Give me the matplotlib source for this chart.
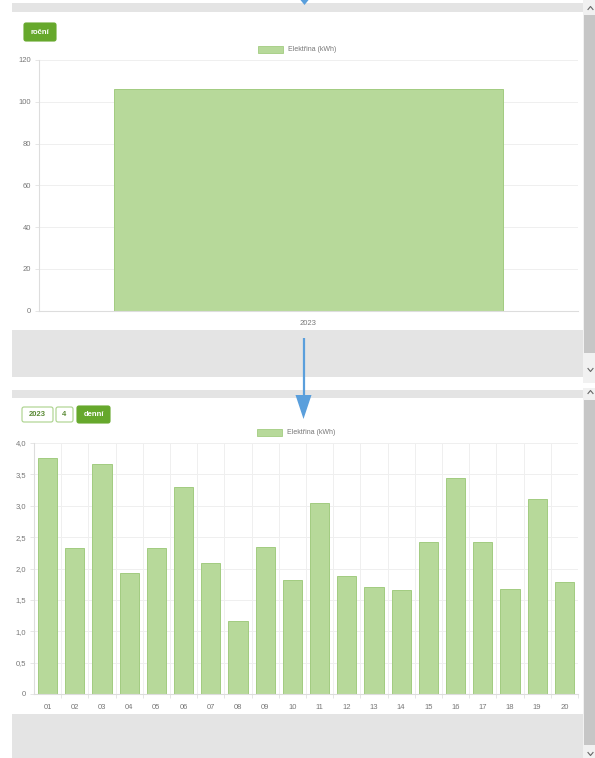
import matplotlib.pyplot as plt
from matplotlib.patches import Rectangle, FancyBboxPatch, Polygon
from matplotlib.ticker import FuncFormatter, MultipleLocator

plt.rcParams['font.family'] = ['Liberation Sans', 'DejaVu Sans']

# data
years = ['2023']
year_kwh = [106]
days = ['01', '02', '03', '04', '05', '06', '07', '08', '09', '10',
        '11', '12', '13', '14', '15', '16', '17', '18', '19', '20']
day_kwh = [3.76, 2.33, 3.66, 1.93, 2.32, 3.30, 2.09, 1.16, 2.35, 1.81,
           3.05, 1.88, 1.70, 1.65, 2.43, 3.44, 2.42, 1.67, 3.10, 1.79]
legend_label = 'Elektřina (kWh)'

W, H = 595, 758
bar_fc = '#b7d99a'
bar_ec = '#a2cc80'
green = '#66a82c'
blue = '#5a9fdc'
gray = '#e4e4e4'
tick_c = '#777777'

fig = plt.figure(figsize=(W / 100, H / 100), dpi=100)
fig.patch.set_facecolor('white')

# page background drawn in pixel coordinates
bg = fig.add_axes([0, 0, 1, 1], zorder=0)
bg.set_xlim(0, W)
bg.set_ylim(H, 0)
bg.axis('off')

for x, y, w, h in [(12, 3, 571, 9), (12, 330, 571, 47),
                   (12, 390, 571, 8), (12, 714, 571, 44)]:
    bg.add_patch(Rectangle((x, y), w, h, color=gray, lw=0))

# scrollbars
for y, h in [(0, 383), (388, 370)]:
    bg.add_patch(Rectangle((583, y), 12, h, color='#f1f1f1', lw=0))
for y, h in [(15, 338), (400, 345)]:
    bg.add_patch(Rectangle((584, y), 11, h, color='#c6c6c6', lw=0))
for y, up in [(8, True), (392, True), (370, False), (754, False)]:
    d = -1.5 if up else 1.5
    bg.plot([588, 590.5, 593], [y - d, y + d, y - d], color='#666666', lw=0.8)

# blue arrows
bg.add_patch(Polygon([(298, -3), (311, -3), (304.5, 5)], color=blue, lw=0))
bg.plot([303.5, 303.5], [338, 397], color=blue, lw=1.6, solid_capstyle='butt')
bg.add_patch(Polygon([(295.5, 395), (311.5, 395), (303.5, 419)], color=blue, lw=0))


def button(x0, x1, y0, y1, label, filled):
    fc = green if filled else 'white'
    ec = green if filled else '#a9d28a'
    bg.add_patch(FancyBboxPatch((x0, y0), x1 - x0, y1 - y0,
                                boxstyle='round,pad=0,rounding_size=2',
                                fc=fc, ec=ec, lw=0.8))
    bg.text((x0 + x1) / 2, (y0 + y1) / 2 + 0.5, label, ha='center', va='center',
            fontsize=5.5, fontweight='bold',
            color='white' if filled else '#5a8a35')


button(24, 56, 23, 41, 'roční', True)
button(22, 53, 407, 422, '2023', False)
button(56, 73, 407, 422, '4', False)
button(77, 110, 406, 423, 'denní', True)

# legends
for x, y in [(258, 46), (257, 429)]:
    bg.add_patch(Rectangle((x, y), 25, 7, fc=bar_fc, ec=bar_ec, lw=0.6))
    bg.text(x + 30, y + 3.8, legend_label, ha='left', va='center',
            fontsize=5, color=tick_c)


def style_axes(ax):
    ax.set_facecolor('none')
    for s in ['top', 'right']:
        ax.spines[s].set_visible(False)
    for s in ['left', 'bottom']:
        ax.spines[s].set_color('#dddddd')
        ax.spines[s].set_linewidth(0.8)
    ax.tick_params(axis='both', which='both', colors='#e2e2e2',
                   labelcolor=tick_c, labelsize=5.5, length=3, width=0.6, pad=2.5)
    ax.grid(axis='y', color='#efefef', lw=0.7)
    ax.set_axisbelow(True)


def px_rect(left, right, top, bottom):
    return [left / W, 1 - bottom / H, (right - left) / W, (bottom - top) / H]


# yearly chart
ax1 = fig.add_axes(px_rect(39, 578, 60, 310.5), zorder=1)
style_axes(ax1)
ax1.bar(range(len(years)), year_kwh, width=0.72, color=bar_fc,
        edgecolor=bar_ec, lw=0.7)
ax1.set_xlim(-0.5, len(years) - 0.5)
ax1.set_ylim(0, 120)
ax1.yaxis.set_major_locator(MultipleLocator(20))
ax1.set_xticks(range(len(years)))
ax1.set_xticklabels(years)
ax1.tick_params(axis='x', which='major', length=0, pad=7)

# daily chart
ax2 = fig.add_axes(px_rect(34, 578, 443, 694), zorder=1)
style_axes(ax2)
ax2.bar(range(len(days)), day_kwh, width=0.7, color=bar_fc,
        edgecolor=bar_ec, lw=0.7)
ax2.set_xlim(-0.5, len(days) - 0.5)
ax2.set_ylim(0, 4)
ax2.yaxis.set_major_locator(MultipleLocator(0.5))
ax2.yaxis.set_major_formatter(FuncFormatter(
    lambda v, p: '0' if v == 0 else f'{v:.1f}'.replace('.', ',')))
ax2.set_xticks(range(len(days)))
ax2.set_xticklabels(days)
ax2.set_xticks([i + 0.5 for i in range(len(days))], minor=True)
ax2.grid(axis='x', which='minor', color='#efefef', lw=0.7)
ax2.tick_params(axis='x', which='major', length=0, pad=7.5)

fig.savefig('out.png', dpi=100)
